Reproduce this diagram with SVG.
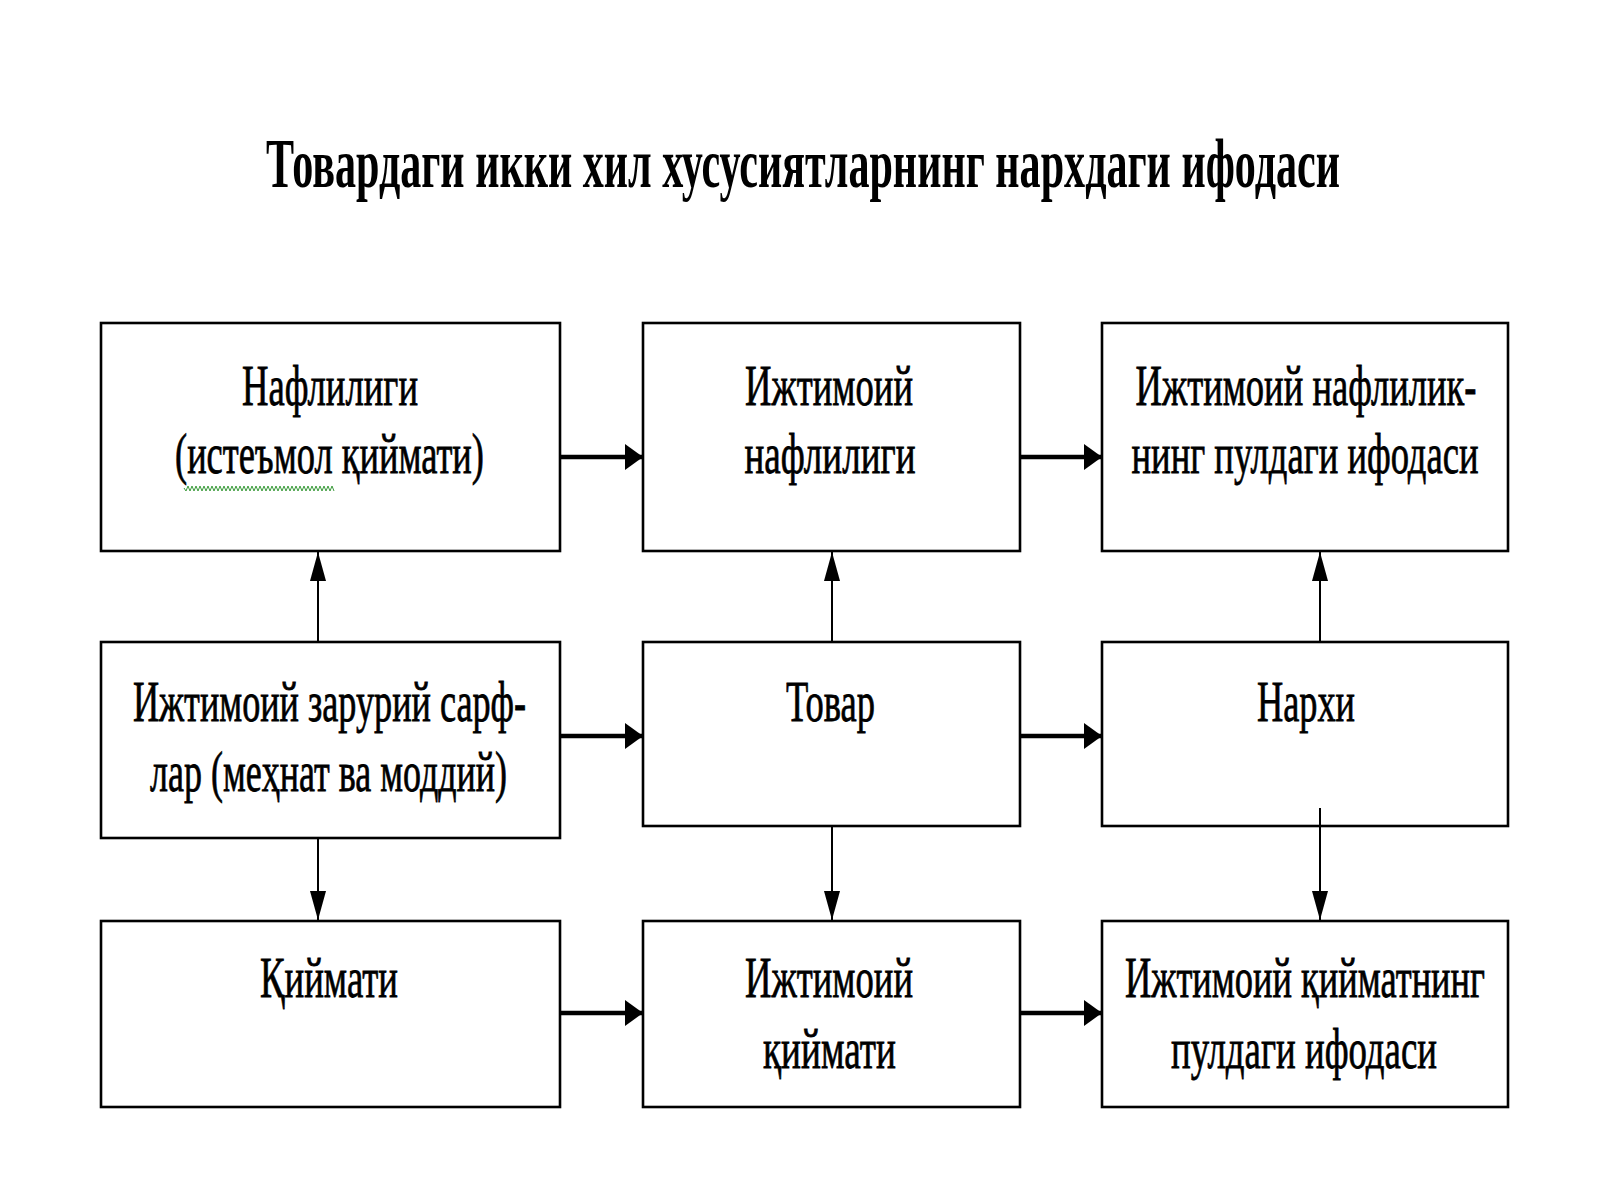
<svg xmlns="http://www.w3.org/2000/svg" width="1600" height="1200" viewBox="0 0 1600 1200">
<defs>
<style>
.box{fill:#fff;stroke:#000;stroke-width:2.6}
.t{font-family:"Liberation Serif","Times New Roman",serif;font-size:58px;fill:#000;text-anchor:middle;stroke:#000;stroke-width:0.8}
.title{font-family:"Liberation Serif","Times New Roman",serif;font-size:70px;font-weight:bold;fill:#000;text-anchor:middle}
.h{stroke:#000;stroke-width:4.5;fill:none}
.v{stroke:#000;stroke-width:2;fill:none}
</style>
<marker id="ah" markerUnits="userSpaceOnUse" markerWidth="20" markerHeight="28" refX="18" refY="13" orient="auto" viewBox="0 0 20 28">
<path d="M0,0 L18,13 L0,26 Z" fill="#000"/>
</marker>
<marker id="av" markerUnits="userSpaceOnUse" markerWidth="30" markerHeight="18" refX="29" refY="8" orient="auto" viewBox="0 0 30 18">
<path d="M0,0 L29,8 L0,16 Z" fill="#000"/>
</marker>
</defs>
<rect width="1600" height="1200" fill="#fff"/>
<text class="title" x="803" y="187" textLength="1074" lengthAdjust="spacingAndGlyphs">Товардаги икки хил хусусиятларнинг нархдаги ифодаси</text>

<g id="n1">
<rect class="box" x="101" y="323" width="459" height="228"/>
<text class="t" x="330" y="405" textLength="176" lengthAdjust="spacingAndGlyphs">Нафлилиги</text>
<text class="t" x="329.5" y="473" textLength="309" lengthAdjust="spacingAndGlyphs">(истеъмол қиймати)</text>
<polyline points="184,488 186,491 188,486 190,491 192,486 194,491 196,486 198,491 200,486 202,491 204,486 206,491 208,486 210,491 212,486 214,491 216,486 218,491 220,486 222,491 224,486 226,491 228,486 230,491 232,486 234,491 236,486 238,491 240,486 242,491 244,486 246,491 248,486 250,491 252,486 254,491 256,486 258,491 260,486 262,491 264,486 266,491 268,486 270,491 272,486 274,491 276,486 278,491 280,486 282,491 284,486 286,491 288,486 290,491 292,486 294,491 296,486 298,491 300,486 302,491 304,486 306,491 308,486 310,491 312,486 314,491 316,486 318,491 320,486 322,491 324,486 326,491 328,486 330,491 332,486 334,491" fill="none" stroke="#3a9a3a" stroke-width="1"/>
</g>
<g id="n2">
<rect class="box" x="643" y="323" width="377" height="228"/>
<text class="t" x="829" y="405" textLength="168" lengthAdjust="spacingAndGlyphs">Ижтимоий</text>
<text class="t" x="830" y="473" textLength="171" lengthAdjust="spacingAndGlyphs">нафлилиги</text>
</g>
<g id="n3">
<rect class="box" x="1102" y="323" width="406" height="228"/>
<text class="t" x="1306" y="405" textLength="341" lengthAdjust="spacingAndGlyphs">Ижтимоий нафлилик-</text>
<text class="t" x="1305" y="473" textLength="347" lengthAdjust="spacingAndGlyphs">нинг пулдаги ифодаси</text>
</g>
<g id="n4">
<rect class="box" x="101" y="642" width="459" height="196"/>
<text class="t" x="329.5" y="721" textLength="393" lengthAdjust="spacingAndGlyphs">Ижтимоий зарурий сарф-</text>
<text class="t" x="328.5" y="791" textLength="357" lengthAdjust="spacingAndGlyphs">лар (меҳнат ва моддий)</text>
</g>
<g id="n5">
<rect class="box" x="643" y="642" width="377" height="184"/>
<text class="t" x="830.5" y="721" textLength="89" lengthAdjust="spacingAndGlyphs">Товар</text>
</g>
<g id="n6">
<rect class="box" x="1102" y="642" width="406" height="184"/>
<text class="t" x="1306" y="721" textLength="98" lengthAdjust="spacingAndGlyphs">Нархи</text>
</g>
<g id="n7">
<rect class="box" x="101" y="921" width="459" height="186"/>
<text class="t" x="329" y="997" textLength="138" lengthAdjust="spacingAndGlyphs">Қиймати</text>
</g>
<g id="n8">
<rect class="box" x="643" y="921" width="377" height="186"/>
<text class="t" x="829" y="997" textLength="168" lengthAdjust="spacingAndGlyphs">Ижтимоий</text>
<text class="t" x="829.5" y="1068" textLength="133" lengthAdjust="spacingAndGlyphs">қиймати</text>
</g>
<g id="n9">
<rect class="box" x="1102" y="921" width="406" height="186"/>
<text class="t" x="1305" y="997" textLength="360" lengthAdjust="spacingAndGlyphs">Ижтимоий қийматнинг</text>
<text class="t" x="1304" y="1068" textLength="266" lengthAdjust="spacingAndGlyphs">пулдаги ифодаси</text>
</g>

<g id="connectors">
<line class="h" x1="561" y1="457" x2="643" y2="457" marker-end="url(#ah)"/>
<line class="h" x1="1021" y1="457" x2="1102" y2="457" marker-end="url(#ah)"/>
<line class="h" x1="561" y1="736" x2="643" y2="736" marker-end="url(#ah)"/>
<line class="h" x1="1021" y1="736" x2="1102" y2="736" marker-end="url(#ah)"/>
<line class="h" x1="561" y1="1013" x2="643" y2="1013" marker-end="url(#ah)"/>
<line class="h" x1="1021" y1="1013" x2="1102" y2="1013" marker-end="url(#ah)"/>
<line class="v" x1="318" y1="642" x2="318" y2="552" marker-end="url(#av)"/>
<line class="v" x1="832" y1="642" x2="832" y2="552" marker-end="url(#av)"/>
<line class="v" x1="1320" y1="642" x2="1320" y2="552" marker-end="url(#av)"/>
<line class="v" x1="318" y1="838" x2="318" y2="920" marker-end="url(#av)"/>
<line class="v" x1="832" y1="826" x2="832" y2="920" marker-end="url(#av)"/>
<line class="v" x1="1320" y1="808" x2="1320" y2="920" marker-end="url(#av)"/>
</g>
</svg>
